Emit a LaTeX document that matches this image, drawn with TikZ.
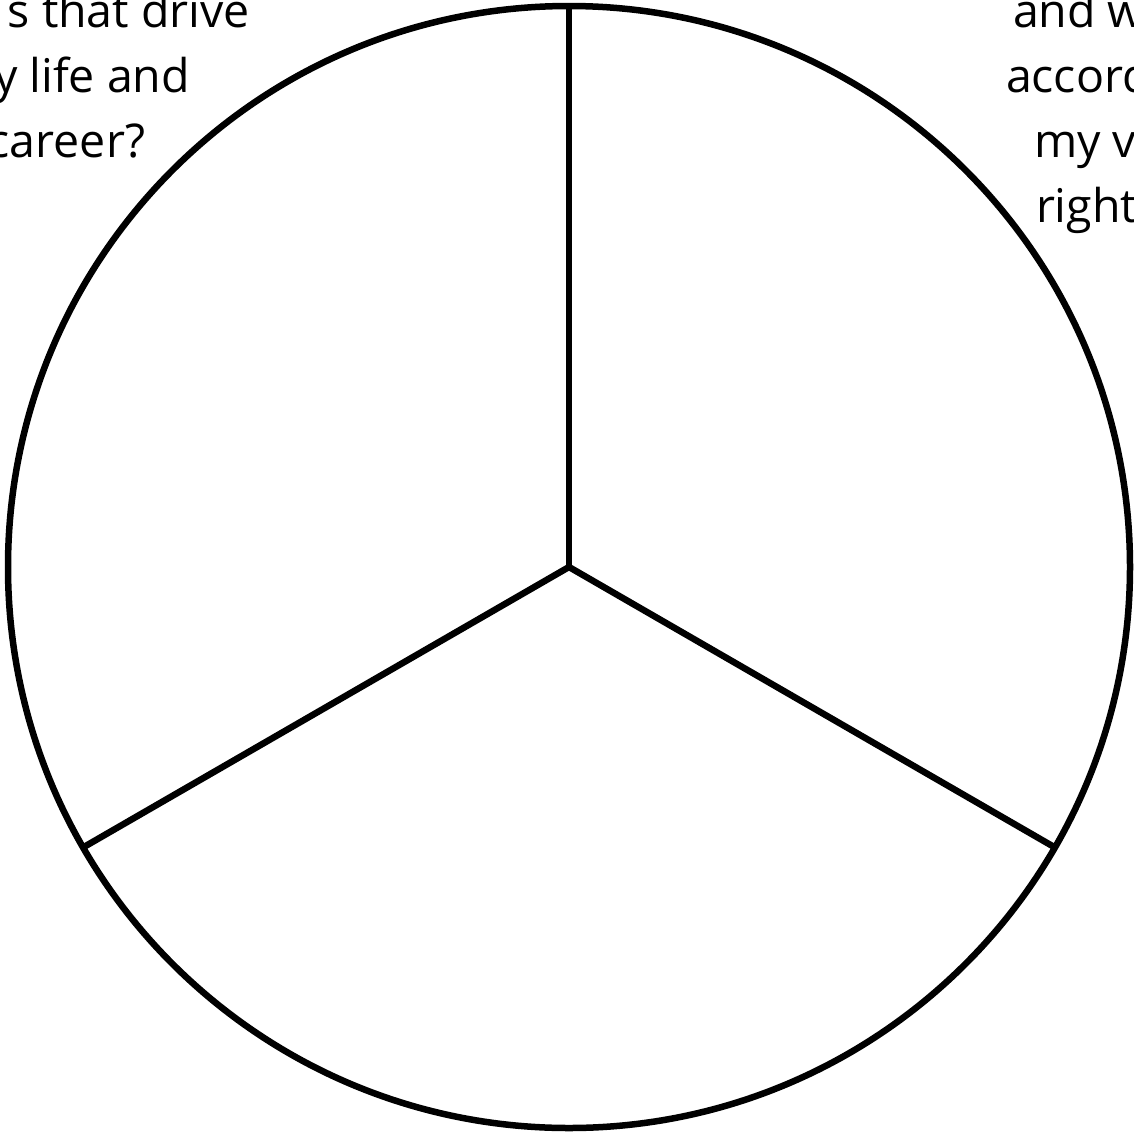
\documentclass[tikz,border=0pt]{standalone}
\usepackage{fontspec}
\setmainfont{Open Sans}
\usetikzlibrary{calc}
\tikzset{
  rim/.style={draw=black, line width=6.5pt},
  spoke/.style={draw=black, line width=6.5pt, line cap=butt},
  label/.style={inner sep=0pt, outer sep=0pt, font=\fontsize{46.5}{62}\selectfont, text=black}
}
\begin{document}
\begin{tikzpicture}[x=1pt,y=-1pt]
  \useasboundingbox (0,0) rectangle (1134,1136);
  \clip (0,0) rectangle (1134,1136);
  \coordinate (c) at (569,567);
  \coordinate (top) at ($(c)+(0,-561)$);
  \coordinate (lft) at ($(c)+(-486,280.5)$);
  \coordinate (rgt) at ($(c)+(486,280.5)$);
  \draw[rim] (c) circle[radius=561];
  \draw[spoke] (c) -- (top);
  \draw[spoke] (c) -- (lft);
  \draw[spoke] (c) -- (rgt);
  % left text fragments
  \node[label, anchor=base east] (l1) at (250,27) {s that drive};
  \node[label, anchor=base east] (l2) at (190,92) {y life and};
  \node[label, anchor=base east] (l3) at (145,157) {career?};
  % right text fragments
  \node[label, anchor=base west] (r1) at (1013,27) {and w};
  \node[label, anchor=base west] (r2) at (1006,92) {accord};
  \node[label, anchor=base west] (r3) at (1034,157) {my v};
  \node[label, anchor=base west] (r4) at (1036,222) {right};
\end{tikzpicture}
\end{document}
